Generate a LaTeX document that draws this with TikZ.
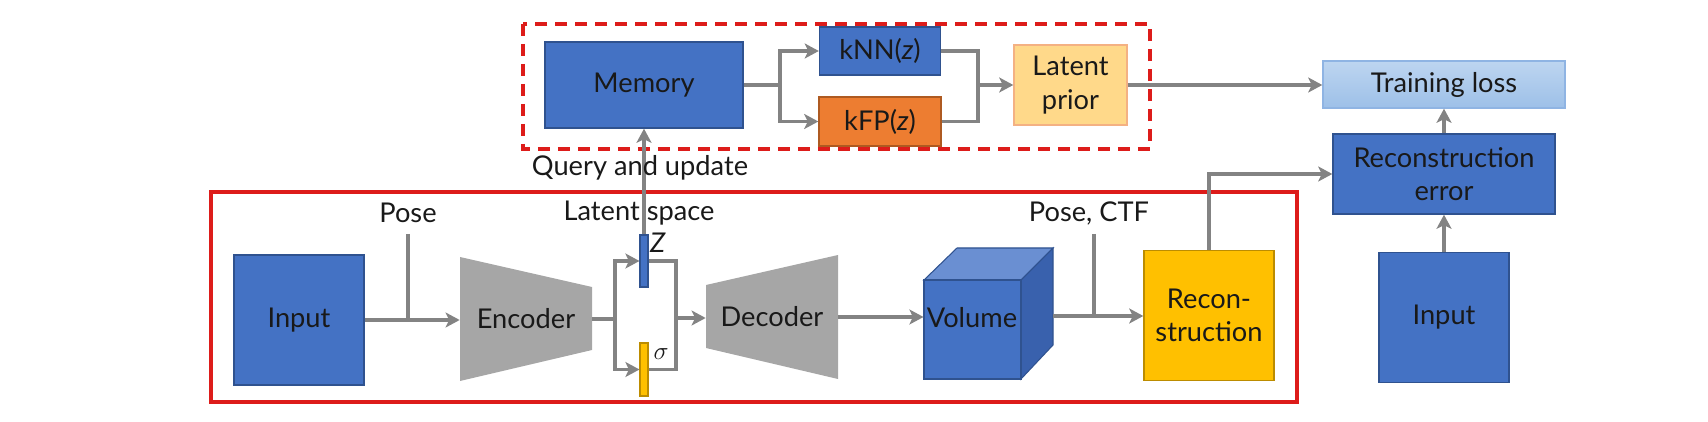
\documentclass[tikz,border=0pt]{standalone}
\usepackage{fontspec}
\setmainfont{Lato}
\usetikzlibrary{arrows.meta}
\definecolor{boxblue}{HTML}{4472C4}
\definecolor{boxedge}{HTML}{2F528F}
\definecolor{kfporange}{HTML}{ED7D31}
\definecolor{kfpedge}{HTML}{AE5A21}
\definecolor{recyellow}{HTML}{FFC000}
\definecolor{recedge}{HTML}{BC8C00}
\definecolor{priorfill}{HTML}{FFD98A}
\definecolor{prioredge}{HTML}{F4B183}
\definecolor{losstop}{HTML}{BDD5F0}
\definecolor{lossbot}{HTML}{9DC0E8}
\definecolor{lossedge}{HTML}{8FB4E3}
\definecolor{linegray}{HTML}{838383}
\definecolor{trapgray}{HTML}{A6A6A6}
\definecolor{cubetop}{HTML}{6A8FD2}
\definecolor{cubeside}{HTML}{3961AD}
\definecolor{framered}{HTML}{DD1C1A}
\begin{document}
\begin{tikzpicture}[x=0.02cm,y=-0.02cm,
  every node/.style={font=\fontsize{15.5}{19}\selectfont,text=black!90},
  blk/.style={draw=boxedge,fill=boxblue,line width=0.8pt,inner sep=0pt,align=center},
  bar/.style={draw=boxedge,fill=boxblue,line width=0.6pt,inner sep=0pt,minimum width=0.16cm},
  ln/.style={draw=linegray,line width=2.2pt},
  arr/.style={ln,-{Stealth[length=8pt,width=8.5pt,inset=2pt]}},
  frame/.style={draw=framered,line width=2pt}]
\useasboundingbox (0,0) rectangle (1708,422);

\draw[frame,dash pattern=on 0.24cm off 0.16cm] (523,24) rectangle (1150,149);
\draw[frame] (211,192) rectangle (1297,402);

\node[blk,minimum width=3.96cm,minimum height=1.72cm] (mem) at (644,85) {Memory};
\node[blk,minimum width=2.42cm,minimum height=0.96cm] (knn) at (880,51) {kNN(\textit{z})};
\node[blk,draw=kfpedge,fill=kfporange,minimum width=2.44cm,minimum height=0.98cm] (kfp) at (880,121.5) {kFP(\textit{z})};
\node[blk,draw=prioredge,fill=priorfill,minimum width=2.26cm,minimum height=1.6cm] (prior) at (1070.5,85) {Latent\\prior};
\node[blk,draw=lossedge,top color=losstop,bottom color=lossbot,minimum width=4.84cm,minimum height=0.94cm] (loss) at (1444,84.5) {Training loss};
\node[blk,minimum width=4.44cm,minimum height=1.6cm] (err) at (1444,174) {Reconstruction\\error};
\node[blk,minimum size=2.6cm] (inR) at (1444,317.5) {Input};
\node[blk,draw=recedge,fill=recyellow,minimum size=2.6cm] (rec) at (1209,315.5) {Recon-\\struction};
\node[blk,minimum size=2.6cm] (inL) at (299,320) {Input};

\fill[trapgray] (460,257) -- (592,287) -- (592,350) -- (460,381) -- cycle;
\node[minimum width=2.64cm,inner sep=0pt] (enc) at (526,319) {Encoder};
\fill[trapgray] (706,285) -- (838,255) -- (838,379) -- (706,348) -- cycle;
\node[minimum width=2.64cm,inner sep=0pt] (dec) at (772,317) {Decoder};

\node[bar,minimum height=1.04cm] (zbar) at (644,261) {};
\node[bar,draw=recedge,fill=recyellow,minimum height=1.06cm] (sbar) at (644,369.5) {};
\node (zlbl) at (658,243) {\textit{Z}};
\node (slbl) at (661,354) {$\sigma$};

\filldraw[fill=cubetop,draw=boxedge,line width=0.6pt] (924,280) -- (957,248) -- (1053,248) -- (1021,280) -- cycle;
\filldraw[fill=cubeside,draw=boxedge,line width=0.6pt] (1021,280) -- (1053,248) -- (1053,345) -- (1021,379) -- cycle;
\node[blk,line width=0.6pt,minimum width=1.94cm,minimum height=1.98cm] (vol) at (972.5,329.5) {};
\node (voltxt) at (972,318) {Volume};

\coordinate (pose) at (408,234);
\coordinate (jl) at (615,319);
\coordinate (jr) at (676,318);
\coordinate (cubeR) at (1053,316);
\coordinate (ctf) at (1094,234);
\coordinate (jm) at (780,85);
\coordinate (jp) at (978,85);

\draw[arr] (inL.east) -- (inL.east -| enc.west);
\draw[ln] (pose) -- (pose |- inL.east);
\draw[ln] (enc.east) -- (jl);
\draw[arr] (jl) |- (zbar.west);
\draw[arr] (jl) |- (sbar.west);
\draw[ln] (zbar.east) -| (jr) |- (sbar.east);
\draw[arr] (jr) -- (jr -| dec.west);
\draw[arr] (dec.east) -- (dec.east -| vol.west);
\draw[arr] (cubeR) -- (cubeR -| rec.west);
\draw[ln] (ctf) -- (ctf |- cubeR);
\draw[arr] (rec.north) |- (err.west);
\draw[arr] (inR) -- (err);
\draw[arr] (err) -- (loss);
\draw[arr] (prior.east) -- (prior.east -| loss.west);
\draw[ln] (mem.east) -- (jm);
\draw[arr] (jm) |- (knn.west);
\draw[arr] (jm) |- (kfp.west);
\draw[ln] (knn.east) -| (jp) |- (kfp.east);
\draw[arr] (jp) -- (prior.west);
\draw[arr] (zbar.north) -- (zbar.north |- mem.south);

\node (poselbl) at (408,213) {Pose};
\node (ctflbl) at (1089,213) {Pose, CTF};
\node (latlbl) at (639,213) {Latent space};
\node (querylbl) at (640,168) {Query and update};
\end{tikzpicture}
\end{document}
